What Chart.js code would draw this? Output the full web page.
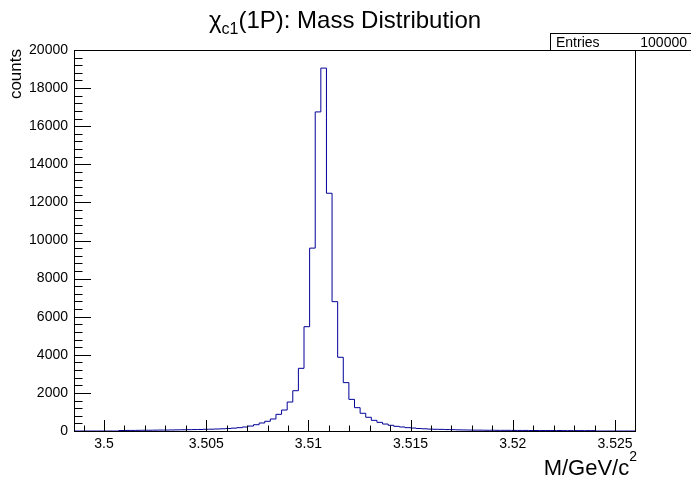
<!DOCTYPE html>
<html><head><meta charset="utf-8">
<script src="https://cdn.jsdelivr.net/npm/chart.js@4/dist/chart.umd.min.js"></script>
<style>html,body{margin:0;padding:0;background:#fff;}#wrap{width:691px;height:481px;position:relative;}</style>
</head><body><div id="wrap"><canvas id="c" width="691" height="481"></canvas></div>
<script>
// ---- data ----
const xMin = 3.49853;
const xMax = 3.52598;
const nBins = 100;
const counts = [
  0,0,0,0,0,0,0,0,25,30,
  30,35,40,40,45,50,50,55,60,65,
  70,75,80,90,95,105,115,130,150,175,
  210,260,330,420,510,630,875,1100,1520,2115,
  3290,5475,9600,16750,19050,12480,6790,3870,2540,1660,
  1225,930,720,560,455,365,300,245,210,175,
  155,130,115,100,90,85,75,70,60,55,
  50,45,45,40,40,35,35,35,30,30,
  30,25,25,25,25,25,25,20,20,20,
  20,20,20,0,0,0,0,0,0,0
];
const xTickValues = [3.5, 3.505, 3.51, 3.515, 3.52, 3.525];
const xTickLabels = ['3.5', '3.505', '3.51', '3.515', '3.52', '3.525'];
const yTickValues = [0, 2000, 4000, 6000, 8000, 10000, 12000, 14000, 16000, 18000, 20000];
const yTickLabels = ['0', '2000', '4000', '6000', '8000', '10000', '12000', '14000', '16000', '18000', '20000'];
const titleParts = {main: 'χ', sub: 'c1', rest: '(1P): Mass Distribution'};
const xTitle = {main: 'M/GeV/c', sup: '2'};
const yTitle = 'counts';
const statsLabel = 'Entries';
const statsValue = '100000';

// ---- build step points (bin lower edges + final upper edge) ----
const binWidth = (xMax - xMin) / nBins;
const pts = counts.map((c, k) => ({x: xMin + k * binWidth, y: c}));
pts.push({x: xMax, y: counts[counts.length - 1]});

const FONT = "'Liberation Sans', Arial, Helvetica, sans-serif";

const rootStyle = {
  id: 'rootStyle',
  afterDatasetsDraw(chart) {
    const ctx = chart.ctx;
    const a = chart.chartArea;
    const xs = chart.scales.x, ys = chart.scales.y;
    ctx.save();
    ctx.strokeStyle = '#000';
    ctx.lineWidth = 1;
    // frame
    ctx.strokeRect(Math.round(a.left) + 0.5, Math.round(a.top) + 0.5,
                   Math.round(a.right - a.left), Math.round(a.bottom - a.top));
    // x ticks (inward)
    ctx.beginPath();
    for (let v = 3.499; v <= xMax + 1e-9; v += 0.001) {
      const vv = Math.round(v * 1000) / 1000;
      const px = Math.round(xs.getPixelForValue(vv)) + 0.5;
      const major = Math.abs(vv * 200 - Math.round(vv * 200)) < 1e-6;
      const len = major ? 11 : 5.5;
      ctx.moveTo(px, a.bottom);
      ctx.lineTo(px, a.bottom - len);
    }
    // y ticks (inward)
    for (let v = 0; v <= 20000; v += 400) {
      const py = Math.round(ys.getPixelForValue(v)) + 0.5;
      const major = v % 2000 === 0;
      const len = major ? 17 : 8.5;
      ctx.moveTo(a.left, py);
      ctx.lineTo(a.left + len, py);
    }
    ctx.stroke();

    ctx.fillStyle = '#000';
    // title with subscript
    const fMain = '24px ' + FONT, fSub = '16px ' + FONT;
    ctx.font = fMain;
    const w1 = ctx.measureText(titleParts.main).width;
    const w3 = ctx.measureText(titleParts.rest).width;
    ctx.font = fSub;
    const w2 = ctx.measureText(titleParts.sub).width;
    let tx = 345 - (w1 + w2 + w3) / 2;
    const tBase = 28;
    ctx.textBaseline = 'alphabetic';
    ctx.textAlign = 'left';
    ctx.font = fMain; ctx.fillText(titleParts.main, tx, tBase); tx += w1;
    ctx.font = fSub; ctx.fillText(titleParts.sub, tx, tBase + 6); tx += w2;
    ctx.font = fMain; ctx.fillText(titleParts.rest, tx, tBase);

    // stats box
    ctx.fillStyle = '#fff';
    ctx.fillRect(550.5, 33.5, 145, 17);
    ctx.strokeRect(550.5, 33.5, 145, 17);
    ctx.fillStyle = '#000';
    ctx.font = '14px ' + FONT;
    ctx.textAlign = 'left';
    ctx.fillText(statsLabel, 556, 47);
    ctx.textAlign = 'right';
    ctx.fillText(statsValue, 687, 47);

    // x axis title with superscript
    const fX = '22px ' + FONT, fSup = '14px ' + FONT;
    ctx.font = fSup;
    const ws = ctx.measureText(xTitle.sup).width;
    ctx.textAlign = 'right';
    ctx.fillText(xTitle.sup, 637, 461);
    ctx.font = fX;
    ctx.fillText(xTitle.main, 637 - ws, 475);

    // y axis title rotated
    ctx.save();
    ctx.translate(21, 49);
    ctx.rotate(-Math.PI / 2);
    ctx.font = '17px ' + FONT;
    ctx.textAlign = 'right';
    ctx.fillText(yTitle, 0, 0);
    ctx.restore();

    ctx.restore();
  }
};

new Chart(document.getElementById('c'), {
  type: 'line',
  data: {
    datasets: [{
      data: pts,
      stepped: 'before',
      borderColor: '#000099',
      borderWidth: 1,
      pointRadius: 0,
      fill: false,
      tension: 0
    }]
  },
  options: {
    responsive: false,
    animation: false,
    devicePixelRatio: 1,
    layout: {padding: {top: 50, right: 56, left: 0, bottom: 0}},
    plugins: {legend: {display: false}, tooltip: {enabled: false}, title: {display: false}},
    scales: {
      x: {
        type: 'linear', min: xMin, max: xMax,
        afterBuildTicks: s => { s.ticks = xTickValues.map(v => ({value: v})); },
        afterFit: s => { s.height = 50; },
        grid: {display: false, drawTicks: false},
        border: {display: false},
        ticks: {padding: 5, color: '#000', font: {family: FONT, size: 14},
                maxRotation: 0, autoSkip: false,
                callback: (v, i) => xTickLabels[i]}
      },
      y: {
        type: 'linear', min: 0, max: 20000,
        afterBuildTicks: s => { s.ticks = yTickValues.map(v => ({value: v})); },
        afterFit: s => { s.width = 74; },
        grid: {display: false, drawTicks: false},
        border: {display: false},
        ticks: {padding: 6, color: '#000', font: {family: FONT, size: 14},
                autoSkip: false,
                callback: (v, i) => yTickLabels[i]}
      }
    }
  },
  plugins: [rootStyle]
});
</script>
</body></html>
